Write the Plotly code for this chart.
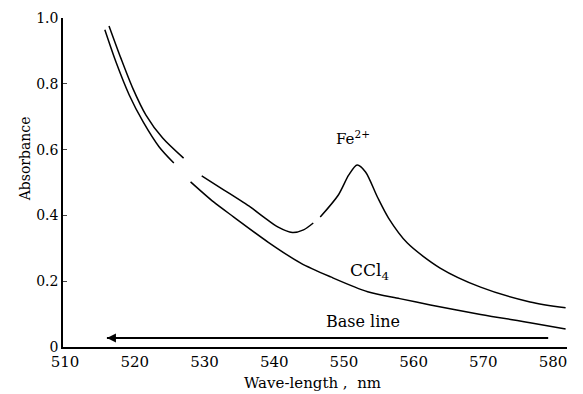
import plotly.graph_objects as go

# Fe2+ curve (None = printing gaps in the original trace)
fe_wl = [516.3, 518.0, 519.7, 521.6, 524.0, 527.0, None,
         529.6, 532.8, 536.6, 538.5, 540.5, 542.6, 544.2, 545.6, None,
         546.6, 549.2, 550.7, 551.9, 553.1, 554.8, 556.4, 559.1, 563.8, 569.6, 576.7, 581.8]
fe_abs = [0.976, 0.878, 0.787, 0.705, 0.635, 0.574, None,
          0.520, 0.477, 0.425, 0.395, 0.365, 0.348, 0.356, 0.377, None,
          0.395, 0.462, 0.523, 0.553, 0.532, 0.456, 0.392, 0.316, 0.240, 0.182, 0.137, 0.119]

# CCl4 curve
ccl_wl = [515.7, 517.3, 519.2, 521.2, 523.5, 525.6, None,
          528.0, 531.3, 534.2, 539.1, 543.8, 548.1, 553.4, 558.0, 562.4, 569.6, 576.7, 581.8]
ccl_abs = [0.964, 0.866, 0.766, 0.684, 0.608, 0.559, None,
           0.502, 0.441, 0.395, 0.319, 0.255, 0.213, 0.168, 0.147, 0.128, 0.099, 0.074, 0.055]

# Base line
base_wl = [516.0, 579.3]
base_abs = [0.027, 0.027]

x_ticks = [510, 520, 530, 540, 550, 560, 570, 580]
y_ticks = [0.0, 0.2, 0.4, 0.6, 0.8, 1.0]
y_tick_text = ["0", "0.2", "0.4", "0.6", "0.8", "1.0"]

font_family = "DejaVu Serif, Liberation Serif, serif"

fig = go.Figure()
fig.add_trace(go.Scatter(x=fe_wl, y=fe_abs, mode="lines", connectgaps=False,
                         line=dict(color="black", width=1.5, shape="spline", smoothing=0.8),
                         showlegend=False))
fig.add_trace(go.Scatter(x=ccl_wl, y=ccl_abs, mode="lines", connectgaps=False,
                         line=dict(color="black", width=1.5, shape="spline", smoothing=0.8),
                         showlegend=False))
fig.add_trace(go.Scatter(x=base_wl, y=base_abs, mode="lines",
                         line=dict(color="black", width=2), showlegend=False))

fig.add_annotation(x=base_wl[0], y=base_abs[0], ax=base_wl[0] + 4, ay=base_abs[1],
                   xref="x", yref="y", axref="x", ayref="y", text="",
                   showarrow=True, arrowhead=2, arrowsize=1.2, arrowwidth=1.5, arrowcolor="black")

fig.add_annotation(x=551.3, y=0.635, xref="x", yref="y", text="Fe<sup>2+</sup>", showarrow=False,
                   font=dict(family=font_family, size=15, color="black"))
fig.add_annotation(x=553.6, y=0.23, xref="x", yref="y", text="CCl<sub>4</sub>", showarrow=False,
                   font=dict(family=font_family, size=17, color="black"))
fig.add_annotation(x=552.8, y=0.077, xref="x", yref="y", text="Base line", showarrow=False,
                   font=dict(family=font_family, size=16, color="black"))

# axis titles
fig.add_annotation(x=0.495, y=-0.109, xref="paper", yref="paper", text="Wave-length ,  nm",
                   showarrow=False, xanchor="center", yanchor="middle",
                   font=dict(family=font_family, size=15, color="black"))
fig.add_annotation(x=-0.075, y=0.571, xref="paper", yref="paper", text="Absorbance",
                   showarrow=False, textangle=-90, xanchor="center", yanchor="middle",
                   font=dict(family=font_family, size=14, color="black"))

# page body adds an 8px offset, so the figure is sized to fit inside the window
fig.update_layout(
    width=575, height=386,
    margin=dict(l=55, r=16, t=10, b=47, autoexpand=False),
    paper_bgcolor="white", plot_bgcolor="white",
    font=dict(family=font_family, size=15, color="black"),
    xaxis=dict(range=[509.7, 582.0], tickvals=x_ticks, showgrid=False, zeroline=False,
               showline=True, linecolor="black", linewidth=1.5, ticks="", ticklen=4,
               tickfont=dict(size=15), automargin=False),
    yaxis=dict(range=[0, 1.0], tickvals=y_ticks, ticktext=y_tick_text, showgrid=False, zeroline=False,
               showline=True, linecolor="black", linewidth=1.5, ticks="inside", ticklen=4,
               tickfont=dict(size=14), automargin=False),
)

fig.write_html("out.html")
